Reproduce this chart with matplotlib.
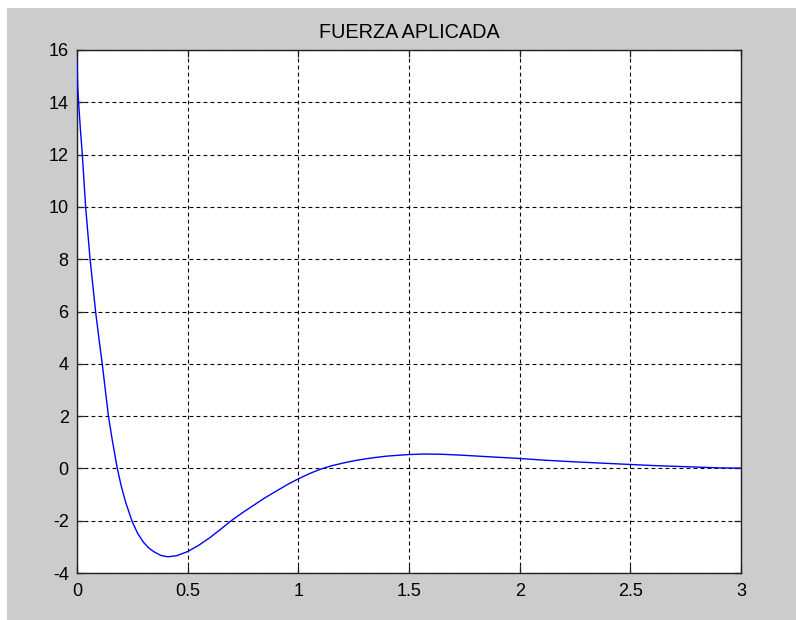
import matplotlib
matplotlib.use("Agg")
import matplotlib.pyplot as plt
from matplotlib.patches import Rectangle

# Applied force response (time in s, force)
t = [0.0, 0.003, 0.008, 0.015, 0.024, 0.039, 0.05, 0.059, 0.084, 0.1, 0.114,
     0.142, 0.16, 0.182, 0.2, 0.22, 0.25, 0.275, 0.3, 0.325, 0.35, 0.38, 0.41,
     0.45, 0.5, 0.55, 0.6, 0.65, 0.7, 0.75, 0.8, 0.85, 0.9, 0.95, 1.0, 1.05,
     1.1, 1.15, 1.2, 1.25, 1.3, 1.35, 1.4, 1.5, 1.57, 1.65, 1.75, 1.85, 2.0,
     2.1, 2.25, 2.4, 2.5, 2.6, 2.7, 2.8, 2.9, 3.0]
fuerza = [15.7, 14.6, 13.9, 13.0, 12.0, 10.0, 8.9, 8.0, 6.0, 4.9, 4.0,
          2.0, 1.05, 0.0, -0.68, -1.3, -2.05, -2.5, -2.82, -3.05, -3.2, -3.33, -3.38,
          -3.34, -3.18, -2.94, -2.65, -2.32, -1.98, -1.68, -1.4, -1.12, -0.87, -0.62, -0.4, -0.2,
          -0.03, 0.1, 0.2, 0.29, 0.36, 0.42, 0.47, 0.53, 0.55, 0.54, 0.5, 0.45, 0.38,
          0.32, 0.25, 0.19, 0.15, 0.11, 0.08, 0.05, 0.02, 0.01]

xticks = [0, 0.5, 1, 1.5, 2, 2.5, 3]
xticklabels = ["0", "0.5", "1", "1.5", "2", "2.5", "3"]
yticks = [-4, -2, 0, 2, 4, 6, 8, 10, 12, 14, 16]

plt.rcParams['font.family'] = ['Liberation Sans', 'DejaVu Sans']
plt.rcParams['axes.unicode_minus'] = False

W, H = 796, 620
fig = plt.figure(figsize=(W / 100, H / 100), dpi=100, facecolor="white")
# grey figure panel
fig.patches.append(Rectangle((7 / W, 0), 1 - 7 / W, 1 - 8 / H,
                             transform=fig.transFigure, facecolor="#cccccc",
                             edgecolor="none", zorder=-10))

ax = fig.add_axes([77 / W, 1 - 573 / H, (741 - 77) / W, (573 - 50) / H])
ax.set_facecolor("white")
ax.plot(t, fuerza, color="#0000ff", linewidth=1.0, zorder=3)

ax.set_xlim(0, 3)
ax.set_ylim(-4, 16)
ax.set_xticks(xticks)
ax.set_xticklabels(xticklabels)
ax.set_yticks(yticks)

ax.grid(True, color="black", linestyle=(0, (3.5, 2.8)), linewidth=0.8)
ax.set_axisbelow(True)

for s in ax.spines.values():
    s.set_color("#222222")
    s.set_linewidth(1.0)

ax.tick_params(direction="in", length=5, width=0.9, color="#222222",
               top=True, right=True, labelsize=13, labelcolor="black")
ax.tick_params(axis="x", pad=7)
ax.tick_params(axis="y", pad=6)

ax.set_title("FUERZA APLICADA", fontsize=14.3, pad=9, color="black")

fig.savefig("out.png", dpi=100, facecolor=fig.get_facecolor())
